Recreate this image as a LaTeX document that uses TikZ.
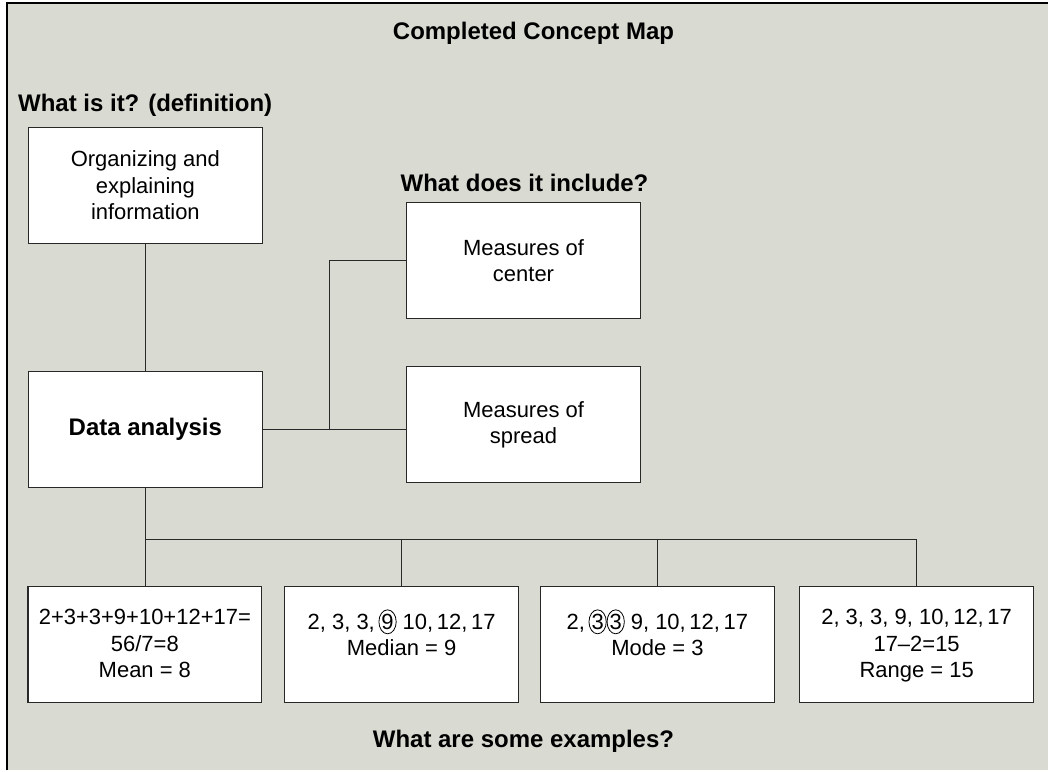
\documentclass[tikz,border=0pt]{standalone}
\usepackage{fontspec}
\setmainfont{Liberation Sans}
\usepackage{xcolor}
\usetikzlibrary{shapes.geometric}

\definecolor{mapbg}{RGB}{217,218,210}
\definecolor{mapline}{RGB}{40,40,40}

\tikzset{
  mapbox/.style={draw=mapline, line width=1.2pt, fill=white,
    minimum width=234pt, minimum height=116pt, inner sep=0pt,
    align=center, font=\fontsize{22}{26.5}\selectfont},
  exbox/.style={mapbox, inner xsep=4pt, inner ysep=23pt},
  maphead/.style={inner sep=0pt, font=\fontsize{24}{28}\selectfont\bfseries},
  link/.style={draw=mapline, line width=1.4pt},
  ring/.style={ellipse, draw=black, fill=none, line width=0.8pt,
    font=\fontsize{22}{26.5}\selectfont,
    minimum width=17pt, minimum height=24pt, inner sep=0pt, outer sep=0pt},
}

% circled value inside an example
\newcommand{\ringed}[1]{\tikz[baseline=(r.base)]\node[ring] (r) {#1};}
% text of an example box, set from the top
\newcommand{\extext}[1]{\parbox[c][70pt][t]{226pt}{\centering #1}}

\begin{document}
\begin{tikzpicture}[x=1pt, y=-1pt]

%% Background and frame
\fill[white] (0,0) rectangle (1049,771);
\fill[mapbg] (7,3) rectangle (1049,771);
\draw[line width=2pt] (7,771) -- (7,3) -- (1049,3);

%% Headings
\node[maphead] (title) at (534,33) {Completed Concept Map};
\node[maphead, anchor=west] (whatis) at (18,105) {What is it? (definition)};
\node[maphead] (include) at (525,183) {What does it include?};
\node[maphead] (examples) at (524,742) {What are some examples?};

%% Definition and parts
\node[mapbox] (Def) at (145.5,185.5) {Organizing and\\explaining\\information};
\node[mapbox, font=\fontsize{24}{28}\selectfont\bfseries] (Data) at (145.5,430) {Data analysis};
\node[mapbox] (Cen) at (524,261) {Measures of\\center};
\node[mapbox] (Spr) at (524,425) {Measures of\\spread};

%% Examples
\node[exbox] (ExMean) at (145,645)
  {\extext{2+3+3+9+10+12+17=\\56/7=8\\Mean = 8}};
\node[exbox] (ExMed) at (402,645)
  {\extext{2, 3, 3,\,\ringed{9} 10,\,12,\,17\\Median = 9}};
\node[exbox] (ExMode) at (658,645)
  {\extext{2,\,\ringed{3}\ringed{3} 9, 10,\,12,\,17\\Mode = 3}};
\node[exbox] (ExRange) at (917.5,645)
  {\extext{2, 3, 3, 9, 10,\,12,\,17\\17--2=15\\Range = 15}};

%% Connectors
\coordinate (Jn) at (330,430);
\coordinate (BusL) at (145.5,540);

\draw[link] (Def) -- (Data);
\draw[link] (Data.east) -- (Data.east -| Spr.west);
\draw[link] (Jn) |- (Cen.west);

\draw[link] (Data.south) -- (Data.south |- ExMean.north);
\draw[link] (BusL) -- (BusL -| ExRange.north);
\foreach \ex in {ExMed, ExMode, ExRange}
  \draw[link] (\ex.north) -- (\ex.north |- BusL);

\end{tikzpicture}
\end{document}
